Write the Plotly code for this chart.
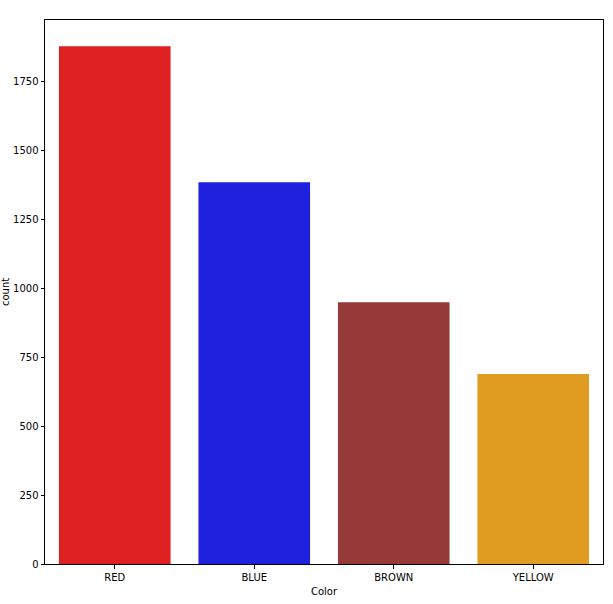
import plotly.graph_objects as go

colors = ["RED", "BLUE", "BROWN", "YELLOW"]
counts = [1877, 1384, 949, 689]
bar_colors = ["#df2020", "#2020df", "#963939", "#e09c21"]
y_ticks = [0, 250, 500, 750, 1000, 1250, 1500, 1750]

fig = go.Figure()
fig.add_trace(go.Bar(x=colors, y=counts, marker_color=bar_colors,
                     marker_line_width=0, width=0.8))

fig.update_layout(
    width=613, height=604,
    margin=dict(l=45, r=10, t=20, b=40, autoexpand=False),
    plot_bgcolor="white", paper_bgcolor="white",
    font=dict(family="DejaVu Sans", size=10, color="black"),
    showlegend=False, bargap=0.2,
)
fig.update_xaxes(range=[-0.5, 3.5], showline=True, mirror=True, linecolor="black",
                 linewidth=1, ticks="outside", ticklen=3.5, tickcolor="black",
                 title_text="Color", title_font_size=10, title_standoff=6,
                 showgrid=False, automargin=False)
fig.update_yaxes(range=[0, 1972], tickvals=y_ticks, showline=True, mirror=True,
                 linecolor="black", linewidth=1, ticks="outside", ticklen=3.5,
                 tickcolor="black", showgrid=False, zeroline=False,
                 automargin=False)

# y title sits right at the left edge, as in the original
fig.add_annotation(text="count", textangle=-90, xref="paper", yref="paper",
                   x=(5 - 45) / 558, y=0.5, xanchor="center", yanchor="middle",
                   showarrow=False, font=dict(size=10))

# drop the default body margin so the figure starts at the window corner
fig.write_html("out.html", config={"displayModeBar": False},
               post_script="document.body.style.margin='0';")
